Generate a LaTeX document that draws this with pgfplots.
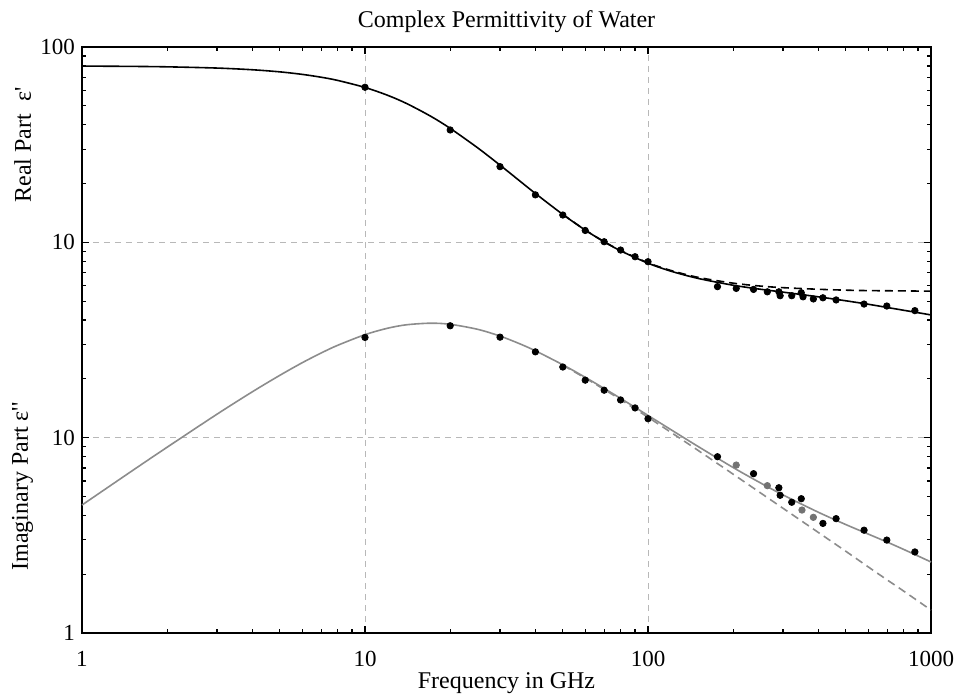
\documentclass[border=0pt]{standalone}
\usepackage{fontspec}
\setmainfont{Liberation Serif}
\usepackage{pgfplots}
\usepackage{pgfplotstable}
\pgfplotsset{compat=1.18}

% Real part: fitted curve (double relaxation), solid
\pgfplotstableread{
f eps
1 79.86
1.5 79.57
2 79.16
3 78.02
4 76.48
5 74.60
6 72.42
7 70.02
8 67.46
10 62.07
12 56.64
14 51.43
17 44.35
20 38.32
25 30.47
30 24.84
35 20.77
40 17.79
50 13.89
60 11.55
70 10.06
80 9.05
100 7.82
120 7.13
150 6.54
200 6.03
250 5.75
300 5.56
400 5.26
500 5.02
600 4.82
700 4.64
800 4.49
1000 4.25
}\realfit

% Real part: single relaxation, dashed
\pgfplotstableread{
f eps
50 13.90
60 11.56
70 10.08
80 9.08
100 7.86
120 7.19
150 6.62
200 6.18
250 5.97
300 5.86
400 5.75
500 5.69
600 5.66
700 5.65
800 5.64
1000 5.62
}\realdash

% Real part: measured points
\pgfplotstableread{
f eps
10 62.2
20 37.6
30 24.4
40 17.5
50 13.8
60 11.5
70 10.07
80 9.13
90 8.44
100 7.96
176 5.93
205 5.81
236 5.74
264 5.58
290 5.58
293 5.33
322 5.33
348 5.52
353 5.26
384 5.13
415 5.20
462 5.07
580 4.83
698 4.72
877 4.47
}\realdots

% Imaginary part: fitted curve (double relaxation), solid
\pgfplotstableread{
f eps
1 4.52
1.5 6.75
2 8.94
3 13.19
4 17.18
5 20.85
6 24.19
7 27.13
8 29.69
10 33.68
12 36.31
14 37.83
17 38.55
20 38.06
25 35.87
30 33.12
35 30.36
40 27.84
50 23.61
60 20.37
70 17.86
80 15.89
100 13.00
120 11.03
150 9.03
200 7.03
250 5.86
300 5.09
400 4.15
500 3.59
600 3.21
700 2.92
800 2.68
1000 2.31
}\imagfit

% Imaginary part: single relaxation, dashed
\pgfplotstableread{
f eps
50 23.47
60 20.20
70 17.66
80 15.66
100 12.72
120 10.69
150 8.62
200 6.50
250 5.21
300 4.35
400 3.27
500 2.62
600 2.18
700 1.87
800 1.64
1000 1.31
}\imagdash

% Imaginary part: measured points (black)
\pgfplotstableread{
f eps
10 32.6
20 37.4
30 32.7
40 27.5
50 23.0
60 19.7
70 17.5
80 15.6
90 14.2
100 12.5
176 7.99
236 6.54
290 5.54
293 5.07
322 4.67
348 4.87
415 3.64
462 3.85
580 3.36
698 2.99
877 2.60
}\imagdots

% Imaginary part: measured points (grey)
\pgfplotstableread{
f eps
205 7.24
264 5.68
350 4.26
384 3.91
}\imagdotsgrey

\begin{document}
\begin{tikzpicture}
\useasboundingbox (-41pt,-30.5pt) rectangle (440pt,316.5pt);
\begin{axis}[
  scale only axis,
  width=424.5pt, height=293pt,
  at={(0,0)}, anchor=south west,
  xmode=log, ymode=log,
  xmin=1, xmax=1000, ymin=0.1, ymax=100,
  xtick={1,10,100,1000}, xticklabels={1,10,100,1000},
  ytick={0.1,1,10,100}, yticklabels={1,10,10,100},
  minor xtick={2,3,4,5,6,7,8,9,20,30,40,50,60,70,80,90,200,300,400,500,600,700,800,900},
  minor ytick={0.2,0.3,0.4,0.5,0.6,0.7,0.8,0.9,2,3,4,5,6,7,8,9,20,30,40,50,60,70,80,90},
  xmajorgrids, ymajorgrids,
  major grid style={dash pattern=on 3pt off 2.5pt, black!28, line width=0.4pt},
  tick align=inside,
  major tick length=3.5pt, minor tick length=2pt,
  every tick/.style={black, line width=0.6pt},
  axis line style={line width=0.8pt},
  tick label style={font=\fontsize{11.5}{13}\selectfont},
  xticklabel style={anchor=center, yshift=-13pt},
  /pgf/number format/assume math mode=true,
  xlabel={Frequency in GHz},
  xlabel style={font=\fontsize{12}{14}\selectfont, at={(axis description cs:0.5,0)}, anchor=center, yshift=-25pt},
  title={Complex Permittivity of Water},
  title style={font=\fontsize{12}{14}\selectfont, at={(axis description cs:0.5,1)}, anchor=center, yshift=6.5pt},
  clip=false,
]
% real part
\addplot[black, line width=0.8pt, dash pattern=on 4pt off 2.5pt, smooth] table[x=f, y=eps] {\realdash};
\addplot[black, line width=0.8pt, smooth] table[x=f, y=eps] {\realfit};
\addplot[only marks, mark=*, mark size=1.6pt, black] table[x=f, y=eps] {\realdots};
% imaginary part (plotted one decade lower)
\addplot[black!45, line width=0.8pt, dash pattern=on 4pt off 2.5pt, smooth] table[x=f, y expr=\thisrow{eps}/10] {\imagdash};
\addplot[black!45, line width=0.8pt, smooth] table[x=f, y expr=\thisrow{eps}/10] {\imagfit};
\addplot[only marks, mark=*, mark size=1.6pt, black] table[x=f, y expr=\thisrow{eps}/10] {\imagdots};
\addplot[only marks, mark=*, mark size=1.6pt, black!55] table[x=f, y expr=\thisrow{eps}/10] {\imagdotsgrey};
\node[rotate=90, font=\fontsize{12}{14}\selectfont] at (axis description cs:-0.07,0.833) {Real Part\ \ ε\textquotesingle};
\node[rotate=90, font=\fontsize{12}{14}\selectfont] at (axis description cs:-0.07,0.25) {Imaginary Part ε\textquotesingle\textquotesingle};
\end{axis}
\end{tikzpicture}
\end{document}
